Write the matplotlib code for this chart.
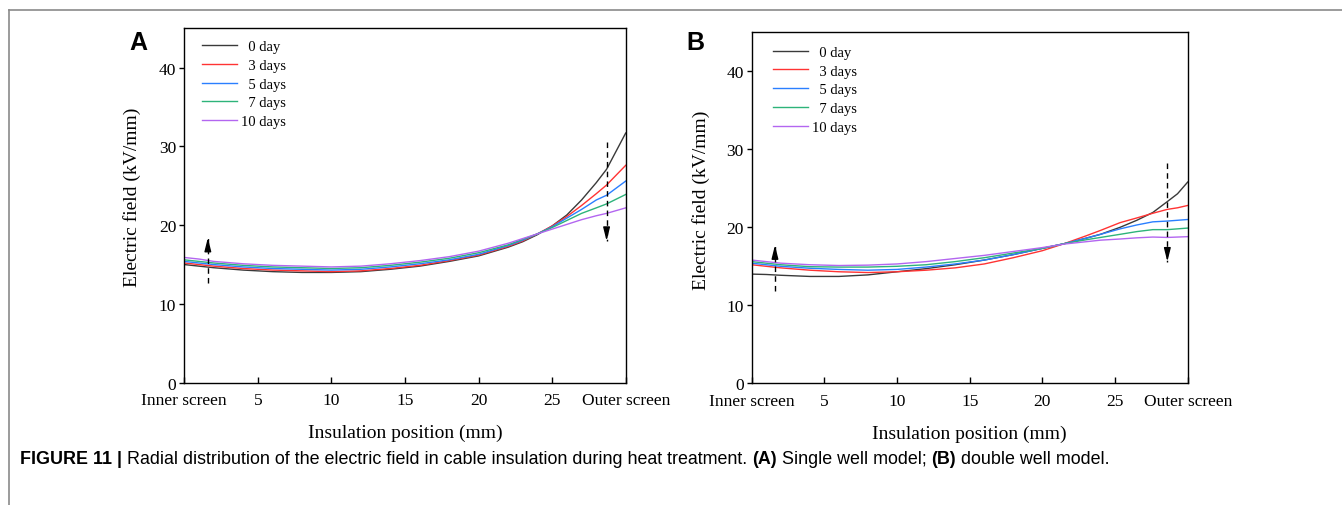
import matplotlib
matplotlib.use("Agg")
import matplotlib.pyplot as plt
from matplotlib.lines import Line2D

# ---- data ----
labels = ["\u20070 day", "\u20073 days", "\u20075 days", "\u20077 days", "10 days"]
colors = ["#3a3a3a", "#ff3333", "#2a7fff", "#2db37a", "#b366f0"]

# Panel A: single well model
xa = [0, 1, 2, 4, 6, 8, 10, 12, 14, 16, 18, 20, 22, 23, 24, 25, 26, 27, 28, 28.7, 30]
a_0 = [15.0, 14.8, 14.6, 14.3, 14.1, 14.0, 14.0, 14.1, 14.4, 14.8, 15.4, 16.1, 17.2, 17.9, 18.8, 19.9, 21.3, 23.2, 25.4, 27.1, 31.7]
a_3 = [15.2, 15.0, 14.8, 14.5, 14.3, 14.2, 14.1, 14.2, 14.5, 14.9, 15.5, 16.2, 17.3, 18.0, 18.9, 19.9, 21.1, 22.5, 24.0, 25.1, 27.6]
a_5 = [15.4, 15.2, 15.0, 14.7, 14.5, 14.4, 14.3, 14.4, 14.7, 15.1, 15.6, 16.3, 17.4, 18.1, 18.9, 19.8, 20.9, 22.0, 23.2, 23.8, 25.6]
a_7 = [15.6, 15.4, 15.2, 14.9, 14.7, 14.6, 14.5, 14.6, 14.9, 15.3, 15.8, 16.5, 17.5, 18.2, 18.9, 19.7, 20.6, 21.5, 22.2, 22.7, 23.9]
a_10 = [15.9, 15.7, 15.4, 15.1, 14.9, 14.8, 14.7, 14.8, 15.1, 15.5, 16.0, 16.7, 17.7, 18.3, 18.9, 19.5, 20.1, 20.7, 21.2, 21.5, 22.2]

# Panel B: double well model
xb = [0, 1, 2, 4, 6, 8, 10, 12, 14, 16, 18, 20, 21.5, 23, 24, 25.35, 26.5, 27.6, 28.6, 29.3, 30]
b_0 = [14.0, 13.95, 13.85, 13.7, 13.7, 13.9, 14.3, 14.7, 15.2, 15.8, 16.5, 17.3, 17.9, 18.6, 19.1, 20.0, 20.9, 21.9, 23.3, 24.3, 25.8]
b_3 = [15.2, 15.0, 14.8, 14.5, 14.3, 14.2, 14.3, 14.5, 14.8, 15.3, 16.1, 17.0, 17.9, 18.9, 19.6, 20.6, 21.2, 21.8, 22.3, 22.5, 22.8]
b_5 = [15.4, 15.2, 15.0, 14.75, 14.6, 14.5, 14.6, 14.9, 15.3, 15.8, 16.5, 17.3, 17.9, 18.6, 19.1, 19.8, 20.3, 20.7, 20.8, 20.9, 21.0]
b_7 = [15.6, 15.4, 15.2, 14.95, 14.9, 14.9, 15.0, 15.2, 15.6, 16.1, 16.7, 17.3, 17.9, 18.4, 18.7, 19.1, 19.45, 19.7, 19.7, 19.8, 19.9]
b_10 = [15.8, 15.6, 15.4, 15.2, 15.1, 15.15, 15.3, 15.6, 16.0, 16.4, 16.9, 17.4, 17.85, 18.15, 18.35, 18.5, 18.65, 18.75, 18.7, 18.75, 18.8]

# trend arrows: (x, y_tail, y_tip)
a_arrows = [(1.6, 12.7, 18.4), (28.7, 30.6, 18.0)]
b_arrows = [(1.6, 11.8, 17.7), (28.6, 28.2, 15.6)]

xticks = [0, 5, 10, 15, 20, 25, 30]
xticklabels = ["Inner screen", "5", "10", "15", "20", "25", "Outer screen"]
yticks = [0, 10, 20, 30, 40]

serif = ["Liberation Serif", "DejaVu Serif"]
plt.rcParams["font.family"] = serif

W, H = 1342, 506
fig = plt.figure(figsize=(W / 100, H / 100), dpi=100)


def fbox(left, right, top, bottom):
    return [left / W, 1 - bottom / H, (right - left) / W, (bottom - top) / H]


def draw_panel(ax, x, series, arrows, leg_anchor, ylab_x):
    for y, c, lab in zip(series, colors, labels):
        ax.plot(x, y, color=c, lw=1.0, label=lab)
    for xa_, y0, y1 in arrows:
        ax.plot([xa_, xa_], [y0, y1], color="black", lw=1.0, ls=(0, (4, 3)))
        d = 1.0 if y1 > y0 else -1.0
        ax.annotate("", xy=(xa_, y1), xytext=(xa_, y1 - d * 1.5),
                    arrowprops=dict(arrowstyle="-|>,head_length=0.8,head_width=0.2",
                                    color="black", lw=1.0, shrinkA=0, shrinkB=0))
    ax.set_xlim(0, 30)
    ax.set_ylim(0, 45)
    ax.set_xticks(xticks)
    ax.set_xticklabels(xticklabels)
    ax.set_yticks(yticks)
    ax.tick_params(axis="x", direction="in", length=4.5, width=1.0, pad=7, labelsize=12.5)
    ax.tick_params(axis="y", direction="out", length=3.3, width=1.0, pad=2.5, labelsize=12.5)
    for s in ax.spines.values():
        s.set_linewidth(1.0)
    ax.set_xlabel("Insulation position (mm)", fontsize=14, labelpad=11)
    ax.set_ylabel("Electric field (kV/mm)", fontsize=14)
    ax.yaxis.set_label_coords(ylab_x, 0.525)
    leg = ax.legend(loc="upper left", bbox_to_anchor=leg_anchor, frameon=False,
                    fontsize=10.5, handlelength=2.4, handletextpad=0.3,
                    labelspacing=0.38, borderpad=0, borderaxespad=0)
    return leg


ax_a = fig.add_axes(fbox(184.3, 625.7, 29.3, 383.7))
draw_panel(ax_a, xa, [a_0, a_3, a_5, a_7, a_10], a_arrows, (0.039, 0.967), -0.098)
ax_b = fig.add_axes(fbox(751.7, 1187.7, 33.3, 384.3))
draw_panel(ax_b, xb, [b_0, b_3, b_5, b_7, b_10], b_arrows, (0.048, 0.962), -0.096)

sans = ["Liberation Sans", "DejaVu Sans"]
fig.text(138 / W, 1 - 43 / H, "A", fontsize=18, fontweight="bold", family=sans,
         ha="center", va="center")
fig.text(695 / W, 1 - 43 / H, "B", fontsize=18, fontweight="bold", family=sans,
         ha="center", va="center")

# page frame
frame_c = "#8a8a8a"
fig.add_artist(Line2D([9.3 / W, 1], [1 - 11 / H, 1 - 11 / H], transform=fig.transFigure,
                      color=frame_c, lw=1.2))
fig.add_artist(Line2D([9.3 / W, 9.3 / W], [0, 1 - 11 / H], transform=fig.transFigure,
                      color=frame_c, lw=1.2))

# caption with mixed weights
caption = [
    ("FIGURE 11 |", "bold"),
    ("Radial distribution of the electric field in cable insulation during heat treatment.", "normal"),
    ("(A)", "bold"),
    ("Single well model;", "normal"),
    ("(B)", "bold"),
    ("double well model.", "normal"),
]
cap_size = 12.9
renderer = fig.canvas.get_renderer()
xpos = 20
gap = cap_size * 0.28 * 100 / 72
for txt, wt in caption:
    t = fig.text(xpos / W, 1 - 460 / H, txt, fontsize=cap_size, fontweight=wt,
                 family=sans, ha="left", va="center")
    xpos += t.get_window_extent(renderer).width + gap

fig.savefig("out.png", dpi=100)
